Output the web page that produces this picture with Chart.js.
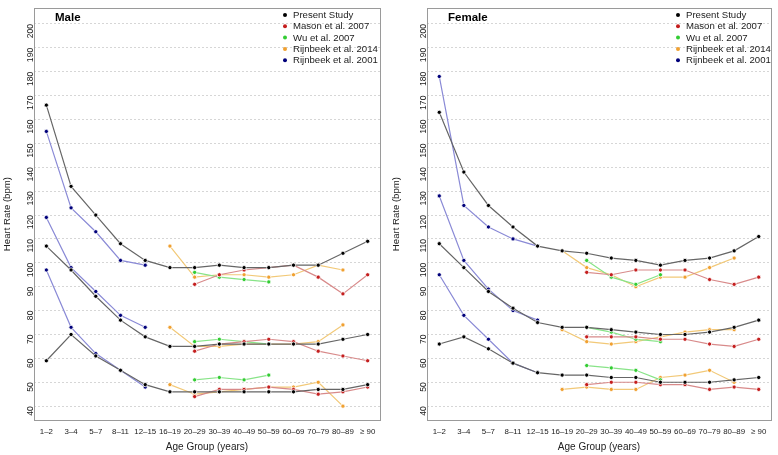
<!DOCTYPE html>
<html>
<head>
<meta charset="utf-8">
<script src="https://cdn.jsdelivr.net/npm/chart.js"></script>
<style>
  body { margin: 0; background: #fff; }
  #wrap { position: relative; width: 778px; height: 455px; }
  .panel { position: absolute; top: 0; }
</style>
</head>
<body>
<div id="wrap">
  <canvas id="male-chart" class="panel" style="left:0" width="389" height="455"></canvas>
  <canvas id="female-chart" class="panel" style="left:389px" width="389" height="455"></canvas>
</div>

<script>
// ---- data ----
const n = null;
const ageGroups = ['1\u20132', '3\u20134', '5\u20137', '8\u201311', '12\u201315', '16\u201319', '20\u201329',
  '30\u201339', '40\u201349', '50\u201359', '60\u201369', '70\u201379', '80\u201389', '\u2265 90'];
const yTicks = [40, 50, 60, 70, 80, 90, 100, 110, 120, 130, 140, 150, 160, 170, 180, 190, 200];
const studies = ['Present Study', 'Mason et al. 2007', 'Wu et al. 2007', 'Rijnbeek et al. 2014', 'Rijnbeek et al. 2001'];

// each study: [upper, median, lower]
const malePresent = [
  [166, 132, 120, 108, 101, 98, 98, 99, 98, 98, 99, 99, 104, 109],
  [107, 97, 86, 76, 69, 65, 65, 66, 66, 66, 66, 66, 68, 70],
  [59, 70, 61, 55, 49, 46, 46, 46, 46, 46, 46, 47, 47, 49]
];
const maleMason = [
  [n, n, n, n, n, n, 91, 95, 97, 98, 99, 94, 87, 95],
  [n, n, n, n, n, n, 63, 66, 67, 68, 67, 63, 61, 59],
  [n, n, n, n, n, n, 44, 47, 47, 48, 47, 45, 46, 48]
];
const maleWu = [
  [n, n, n, n, n, n, 96, 94, 93, 92, n, n, n, n],
  [n, n, n, n, n, n, 67, 68, 67, 66, n, n, n, n],
  [n, n, n, n, n, n, 51, 52, 51, 53, n, n, n, n]
];
const maleRijnbeek2014 = [
  [n, n, n, n, n, 107, 94, 95, 95, 94, 95, 99, 97, n],
  [n, n, n, n, n, 73, 65, 65, 66, 66, 66, 67, 74, n],
  [n, n, n, n, n, 49, 45, 46, 47, 48, 48, 50, 40, n]
];
const maleRijnbeek2001 = [
  [155, 123, 113, 101, 99, n, n, n, n, n, n, n, n, n],
  [119, 98, 88, 78, 73, n, n, n, n, n, n, n, n, n],
  [97, 73, 62, 55, 48, n, n, n, n, n, n, n, n, n]
];

const femalePresent = [
  [163, 138, 124, 115, 107, 105, 104, 102, 101, 99, 101, 102, 105, 111],
  [108, 98, 88, 81, 75, 73, 73, 72, 71, 70, 70, 71, 73, 76],
  [66, 69, 64, 58, 54, 53, 53, 52, 52, 50, 50, 50, 51, 52]
];
const femaleMason = [
  [n, n, n, n, n, n, 96, 95, 97, 97, 97, 93, 91, 94],
  [n, n, n, n, n, n, 69, 69, 69, 68, 68, 66, 65, 68],
  [n, n, n, n, n, n, 49, 50, 50, 49, 49, 47, 48, 47]
];
const femaleWu = [
  [n, n, n, n, n, n, 101, 94, 91, 95, n, n, n, n],
  [n, n, n, n, n, n, 73, 71, 68, 67, n, n, n, n],
  [n, n, n, n, n, n, 57, 56, 55, 51, n, n, n, n]
];
const femaleRijnbeek2014 = [
  [n, n, n, n, n, 105, 98, 95, 90, 94, 94, 98, 102, n],
  [n, n, n, n, n, 72, 67, 66, 67, 69, 71, 72, 72, n],
  [n, n, n, n, n, 47, 48, 47, 47, 52, 53, 55, 50, n]
];
const femaleRijnbeek2001 = [
  [178, 124, 115, 110, 107, n, n, n, n, n, n, n, n, n],
  [128, 101, 89, 80, 76, n, n, n, n, n, n, n, n, n],
  [95, 78, 68, 58, 54, n, n, n, n, n, n, n, n, n]
];

// ---- styles ----
const pointColors = ['#000000', '#c41e1e', '#33cc33', '#f0a030', '#00007a'];
const lineColors = ['#666666', '#d88a8a', '#88e488', '#f2c978', '#8a8ad6'];
const fontFamily = "'Liberation Sans', Arial, sans-serif";
const textColor = '#222';

Chart.defaults.font.family = fontFamily;

function makeDatasets(groups) {
  var sets = [];
  for (var s = 0; s < groups.length; s++) {
    for (var k = 0; k < 3; k++) {
      sets.push({
        label: studies[s],
        data: groups[s][k],
        borderColor: lineColors[s],
        borderWidth: 1.2,
        pointRadius: 2.1,
        pointBorderWidth: 0.8,
        pointBorderColor: '#ffffff',
        pointBackgroundColor: pointColors[s],
        spanGaps: false,
        tension: 0
      });
    }
  }
  return sets;
}

// plot box, panel title and legend drawn inside the plot area
const panelDecor = {
  id: 'panelDecor',
  afterDraw(chart, args, opts) {
    const ctx = chart.ctx;
    const a = chart.chartArea;
    ctx.save();
    ctx.strokeStyle = '#9a9a9a';
    ctx.lineWidth = 1;
    ctx.strokeRect(Math.round(a.left) + 0.5, Math.round(a.top) + 0.5,
      Math.round(a.right - a.left), Math.round(a.bottom - a.top));

    ctx.fillStyle = '#000';
    ctx.font = 'bold 11.5px ' + fontFamily;
    ctx.textBaseline = 'middle';
    ctx.textAlign = 'left';
    ctx.fillText(opts.title, a.left + 21, 18);

    ctx.font = '9.6px ' + fontFamily;
    for (var i = 0; i < studies.length; i++) {
      var yy = 15 + i * 11.3;
      ctx.beginPath();
      ctx.arc(a.right - opts.legendOffset, yy, 2, 0, Math.PI * 2);
      ctx.fillStyle = pointColors[i];
      ctx.fill();
      ctx.fillStyle = textColor;
      ctx.fillText(studies[i], a.right - opts.legendOffset + 8, yy + 0.5);
    }
    ctx.restore();
  }
};

function buildChart(canvasId, groups, title, leftW, rightPad, legendOffset) {
  return new Chart(document.getElementById(canvasId), {
    type: 'line',
    data: { labels: ageGroups, datasets: makeDatasets(groups) },
    plugins: [panelDecor],
    options: {
      responsive: false,
      animation: false,
      layout: { padding: { top: 3, right: rightPad, left: 0, bottom: 0 } },
      plugins: {
        legend: { display: false },
        tooltip: { enabled: false },
        panelDecor: { title: title, legendOffset: legendOffset }
      },
      scales: {
        x: {
          type: 'category',
          offset: true,
          grid: { display: false, drawTicks: false },
          border: { display: false },
          ticks: { autoSkip: false, minRotation: 0, maxRotation: 0, padding: 7,
                   color: textColor, font: { size: 7.9 } },
          title: { display: true, text: 'Age Group (years)', color: textColor,
                   font: { size: 10 }, padding: { top: 0, bottom: 2 } },
          afterFit: function (s) { s.height = 35; }
        },
        y: {
          min: 34.2,
          max: 206.6,
          afterBuildTicks: function (s) { s.ticks = yTicks.map(function (v) { return { value: v }; }); },
          afterFit: function (s) { s.width = leftW; },
          grid: { color: '#d6d6d6', lineWidth: 1, drawTicks: false },
          border: { display: false, dash: [2, 2] },
          ticks: { minRotation: 90, maxRotation: 90, padding: 3,
                   color: textColor, font: { size: 8.6 } },
          title: { display: true, text: 'Heart Rate (bpm)', color: textColor,
                   font: { size: 9.6 }, padding: { top: 2, bottom: 0 } }
        }
      }
    }
  });
}

window.onload = function () {
  buildChart('male-chart', [malePresent, maleMason, maleWu, maleRijnbeek2014, maleRijnbeek2001],
    'Male', 34, 9, 95);
  buildChart('female-chart', [femalePresent, femaleMason, femaleWu, femaleRijnbeek2014, femaleRijnbeek2001],
    'Female', 38, 7, 93);
};
</script>
</body>
</html>
